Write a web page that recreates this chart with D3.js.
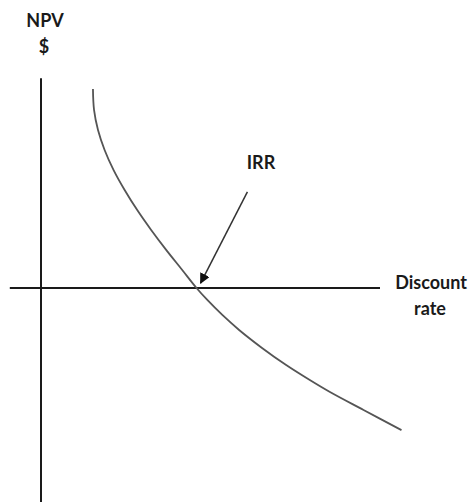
<!DOCTYPE html>
<html>
<head>
<meta charset="utf-8">
<script src="https://cdn.jsdelivr.net/npm/d3@7"></script>
<style>
  html, body { margin: 0; padding: 0; background: #fff; }
  svg { display: block; }
  text { font-family: Lato, "Open Sans", sans-serif; font-weight: bold; fill: #1a1a1a; }
</style>
</head>
<body>
<svg id="chart" width="468" height="503"></svg>
<script>
// discount rate (%) and NPV
const rates = [4.33, 4.42, 4.75, 5.3, 6.05, 6.97, 8.02, 9.18, 10.43, 11.77, 12.96,
               13.86, 15.11, 16.51, 18.42, 20.43, 22.4, 24.08, 26.88, 30.04];
const npvs = [93, 83.2, 73.8, 64.5, 55.1, 45.8, 36.4, 27.1, 17.8, 8.4, 0,
              -5.6, -12.6, -19.6, -28, -36, -43, -48.6, -57, -66.4];
const arrowFrom = [17.2, 44.9];
const arrowTo = [13.3, 2.3];
const xAxisExtent = [-2.6, 28.25];
const yAxisExtent = [98, -100];

const x = d3.scaleLinear().domain([0, 30]).range([41, 401]);
const y = d3.scaleLinear().domain([-100, 100]).range([502, 74]);

const svg = d3.select("#chart");

svg.append("defs").append("marker")
    .attr("id", "head")
    .attr("viewBox", "0 0 10 10")
    .attr("refX", 9)
    .attr("refY", 5)
    .attr("markerWidth", 7)
    .attr("markerHeight", 7)
    .attr("markerUnits", "strokeWidth")
    .attr("orient", "auto")
    .append("path")
    .attr("d", "M0,0L10,5L0,10Z")
    .attr("fill", "#111");

// axes
svg.append("line")
    .attr("x1", x(0)).attr("x2", x(0))
    .attr("y1", y(yAxisExtent[0])).attr("y2", y(yAxisExtent[1]))
    .attr("stroke", "#1a1a1a")
    .attr("stroke-width", 2);

svg.append("line")
    .attr("x1", x(xAxisExtent[0])).attr("x2", x(xAxisExtent[1]))
    .attr("y1", y(0)).attr("y2", y(0))
    .attr("stroke", "#1a1a1a")
    .attr("stroke-width", 2);

// NPV curve
const data = rates.map((r, i) => ({rate: r, npv: npvs[i]}));
const line = d3.line()
    .x(d => x(d.rate))
    .y(d => y(d.npv))
    .curve(d3.curveCatmullRom.alpha(0.5));

svg.append("path")
    .datum(data)
    .attr("fill", "none")
    .attr("stroke", "#555")
    .attr("stroke-width", 1.8)
    .attr("d", line);

// IRR arrow
svg.append("line")
    .attr("x1", x(arrowFrom[0])).attr("y1", y(arrowFrom[1]))
    .attr("x2", x(arrowTo[0])).attr("y2", y(arrowTo[1]))
    .attr("stroke", "#333")
    .attr("stroke-width", 1.5)
    .attr("marker-end", "url(#head)");

// labels
const labels = [
    {text: "NPV", x: 45, y: 27},
    {text: "$", x: 44, y: 53},
    {text: "IRR", x: 261, y: 169},
    {text: "Discount", x: 431, y: 289},
    {text: "rate", x: 430, y: 315}
];

svg.selectAll("text.label")
    .data(labels)
    .join("text")
    .attr("class", "label")
    .attr("x", d => d.x)
    .attr("y", d => d.y)
    .attr("text-anchor", "middle")
    .attr("font-size", 18)
    .text(d => d.text);
</script>
</body>
</html>
